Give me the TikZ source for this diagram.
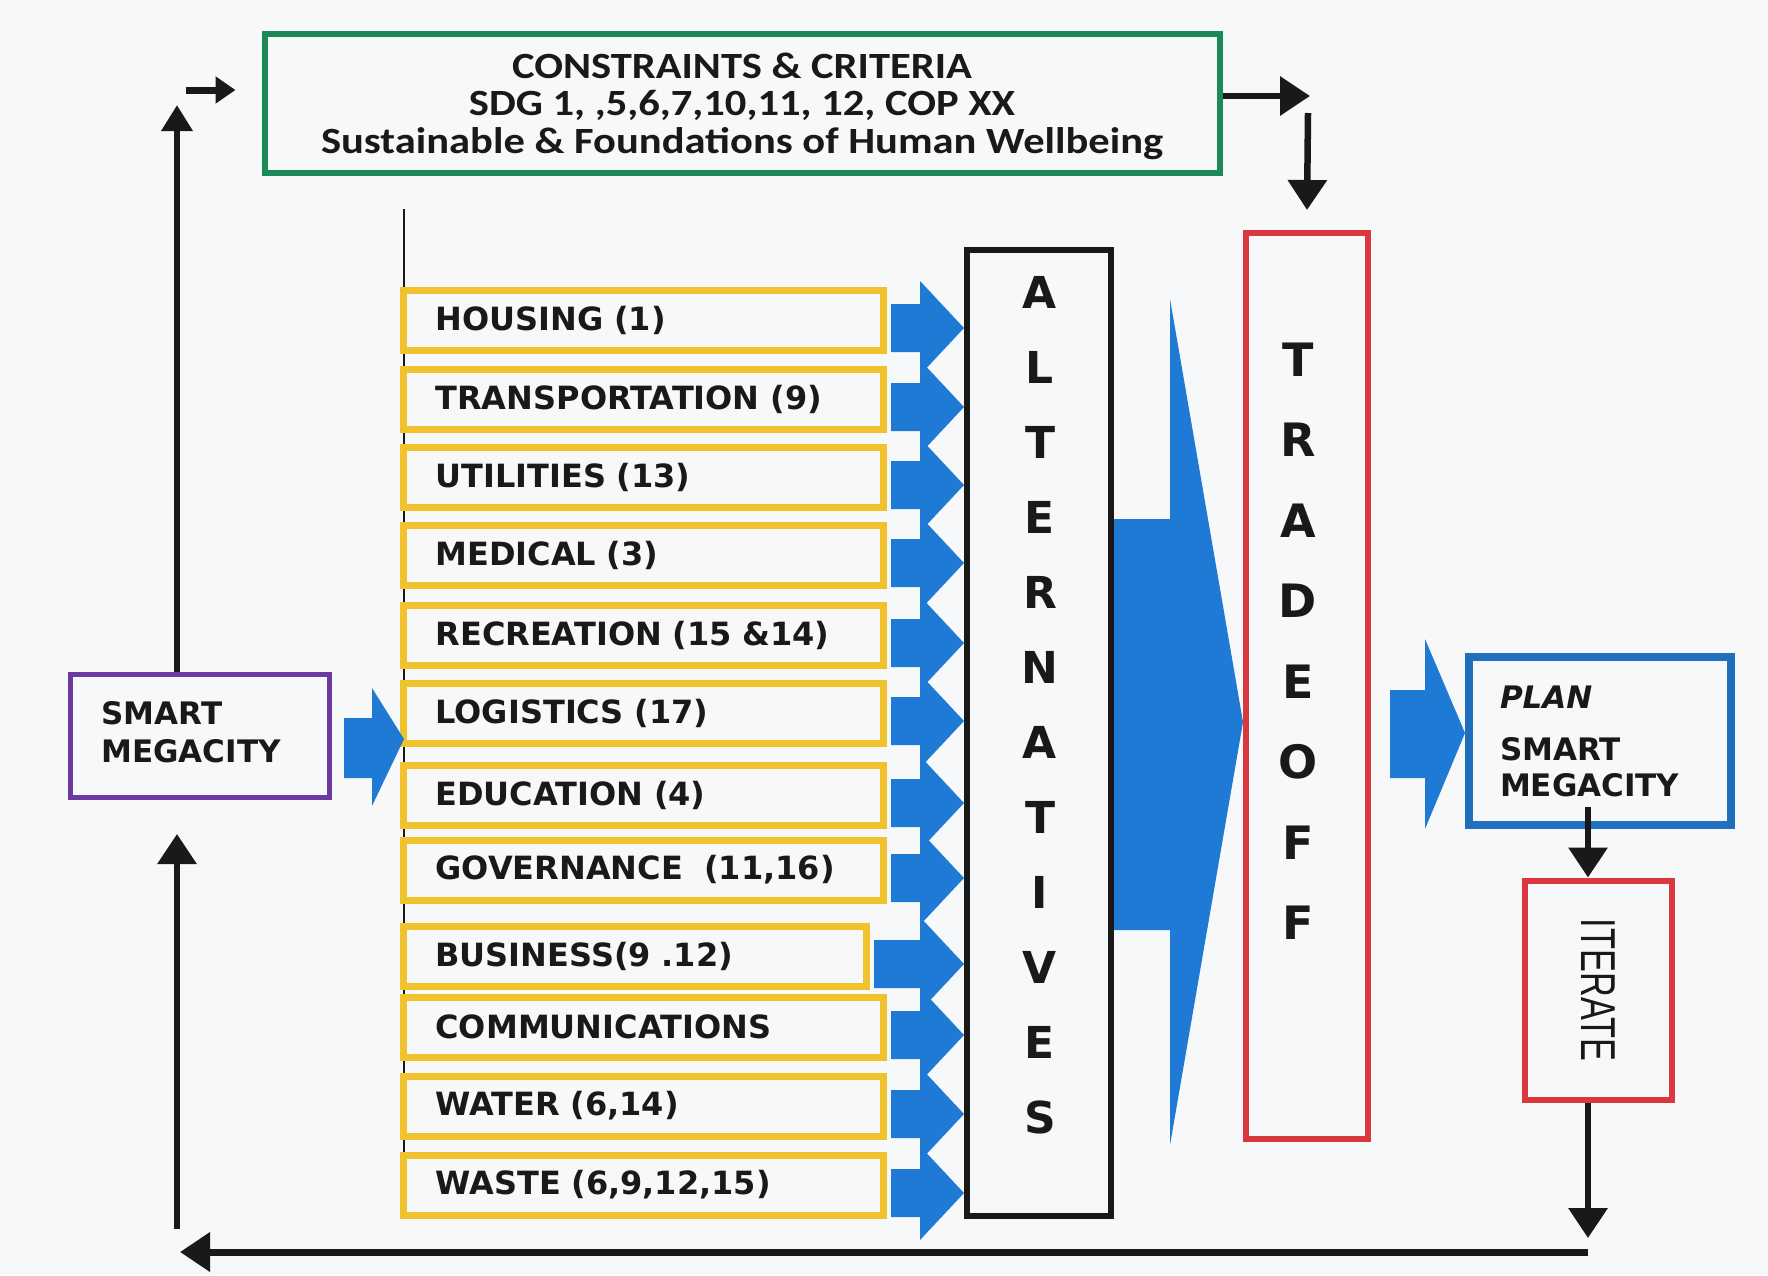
\documentclass[tikz,border=0pt]{standalone}
\usepackage{fontspec}
\setmainfont{DejaVu Sans}
\newfontfamily\carl[FakeStretch=1.15]{Carlito}
\newfontfamily\arl{Liberation Sans}
\usetikzlibrary{arrows.meta,calc}
\definecolor{bgc}{RGB}{247,248,250}
\definecolor{yel}{RGB}{240,194,46}
\definecolor{grn}{RGB}{28,138,88}
\definecolor{pur}{RGB}{108,58,160}
\definecolor{bbox}{RGB}{32,110,190}
\definecolor{ablue}{RGB}{30,122,212}
\definecolor{rd}{RGB}{218,56,62}
\definecolor{ink}{RGB}{25,25,25}
\begin{document}
\begin{tikzpicture}[x=1pt,y=-1pt,
  gbox/.style={draw=grn,line width=6,minimum width=955,minimum height=139,align=center,
    font=\carl\bfseries\fontsize{37}{37.5}\selectfont,text=ink},
  ybox/.style={draw=yel,line width=7,minimum height=60,inner xsep=32,align=left,anchor=west,
    font=\bfseries\fontsize{32}{34}\selectfont,text=ink},
  kbox/.style={draw=ink,line width=6},
  rbox/.style={draw=rd,line width=6},
  letters/.style={align=center,text=ink,font=\bfseries\fontsize{44}{75}\selectfont},
  blk/.style={draw=ink,line width=6.5,-{Triangle[width=38pt,length=30pt]}},
  barrow/.style={fill=ablue}
]
\fill[bgc] (0,0) rectangle (1768,1275);
\useasboundingbox (0,0) rectangle (1768,1275);

% constraints box
\node[gbox] (crit) at (742,103) {};
\node[align=center,text=ink,font=\carl\bfseries\fontsize{37}{37.5}\selectfont] (critt) at (742,106)
  {CONSTRAINTS \& CRITERIA\\SDG 1, ,5,6,7,10,11, 12, COP XX\\Sustainable \& Foundations of Human Wellbeing};

% smart megacity
\node[draw=pur,line width=5,minimum width=259,minimum height=123,text width=197,inner xsep=31,align=left,
  font=\bfseries\fontsize{31}{38}\selectfont,text=ink] (sm) at (200,736) {SMART\\MEGACITY\\[-30pt]\mbox{}};

% alternatives box
\node[kbox,minimum width=144,minimum height=966] (alt) at (1039,733) {};
\node[letters] (altt) at (1040,705) {A\\L\\T\\E\\R\\N\\A\\T\\I\\V\\E\\S};

% tradeoff box
\node[rbox,minimum width=122,minimum height=906] (trade) at (1307,686) {};
\node[letters,font=\bfseries\fontsize{46}{80.5}\selectfont] (tradet) at (1298,641) {T\\R\\A\\D\\E\\O\\F\\F};

% plan box
\node[draw=bbox,line width=8,minimum width=262,minimum height=168,text width=200,inner xsep=31,align=left,
  font=\bfseries\fontsize{31}{40}\selectfont,text=ink] (plan) at (1600,741)
  {\textit{PLAN}\\[12pt]SMART\\[-4pt]MEGACITY};

% iterate box
\node[rbox,minimum width=147,minimum height=219] (iter) at (1598,990) {};
\node[rotate=-90,text=ink,font=\arl\fontsize{49}{49}\selectfont] (itert) at (iter.center) {\scalebox{0.7}[1]{ITERATE}};

% thin vertical line
\coordinate (thinTop) at (404,209);
\draw[ink,line width=1.5] (thinTop) -- (thinTop |- 0,1190);

% yellow boxes and their arrows
\foreach \i/\yy/\tw/\t in {1/320/416/{HOUSING (1)},2/399/416/{TRANSPORTATION (9)},3/477/416/{UTILITIES (13)},
  4/555/416/{MEDICAL (3)},5/635/416/{RECREATION (15 \&14)},6/713/416/{LOGISTICS (17)},
  7/795/416/{EDUCATION (4)},8/870/416/{GOVERNANCE\ \ (11,16)},9/956/399/{BUSINESS(9 .12)},
  10/1027/416/{COMMUNICATIONS},11/1106/416/{WATER (6,14)},12/1185/416/{WASTE (6,9,12,15)}}{
  \node[ybox,text width=\tw] (y\i) at (400,\yy) {\t};
  \coordinate (tip\i) at ($(alt.west |- y\i.east)+(0,8)$);
  \fill[barrow] ($(y\i.east)+(4,-16)$) -- ($(tip\i)+(-44,-24)$) -- ($(tip\i)+(-44,-47)$) -- (tip\i)
     -- ($(tip\i)+(-44,47)$) -- ($(tip\i)+(-44,24)$) -- ($(y\i.east)+(4,32)$) -- cycle;
}

% arrow smart megacity -> list
\coordinate (smtip) at (404,739);
\fill[barrow] ($(sm.east)+(12,-18)$) -- ($(smtip)+(-32,-21)$) -- ($(smtip)+(-32,-51)$) -- (smtip)
  -- ($(smtip)+(-32,67)$) -- ($(smtip)+(-32,39)$) -- ($(sm.east)+(12,42)$) -- cycle;

% big arrow alternatives -> tradeoff
\coordinate (bigtip) at (trade.west |- 0,722);
\fill[barrow] ($(alt.east)+(0,-214)$) -- ($(bigtip)+(-73,-203)$) -- ($(bigtip)+(-73,-423)$) -- (bigtip)
  -- ($(bigtip)+(-73,423)$) -- ($(bigtip)+(-73,208)$) -- ($(alt.east)+(0,197)$) -- cycle;

% arrow tradeoff -> plan
\coordinate (ptip) at (plan.west |- 0,733);
\fill[barrow] ($(trade.east |- ptip)+(19,-43)$) -- ($(ptip)+(-40,-43)$) -- ($(ptip)+(-40,-94)$) -- (ptip)
  -- ($(ptip)+(-40,96)$) -- ($(ptip)+(-40,45)$) -- ($(trade.east |- ptip)+(19,45)$) -- cycle;

% black arrows
\coordinate (upTop) at (177,105);
\draw[blk,-{Triangle[width=30pt,length=26pt]}] (sm.north -| upTop) -- (upTop);
\coordinate (smallA) at (186,90);
\draw[blk,line width=7,-{Triangle[width=26pt,length=20pt]}] (smallA) -- ($(crit.west |- smallA)+(-26,0)$);
\coordinate (rightA) at (1310,96);
\draw[blk] (crit.east |- rightA) -- (rightA);
\coordinate (downA) at (1308,113);
\draw[blk] (downA) -- ($(trade.north)+(0,-20)$);
\coordinate (pdx) at (1588,807);
\draw[blk] (pdx) -- (pdx |- iter.north);
\coordinate (bottomR) at (1588,1252);
\draw[blk] (iter.south -| bottomR) -- ($(bottomR)+(0,-14)$);
\coordinate (bottomL) at (180,1252);
\draw[blk,line width=7] (bottomR) -- (bottomL);
\coordinate (leftUp) at (177,1229);
\draw[blk] (leftUp) -- ($(sm.south -| leftUp)+(0,34)$);
\end{tikzpicture}
\end{document}
